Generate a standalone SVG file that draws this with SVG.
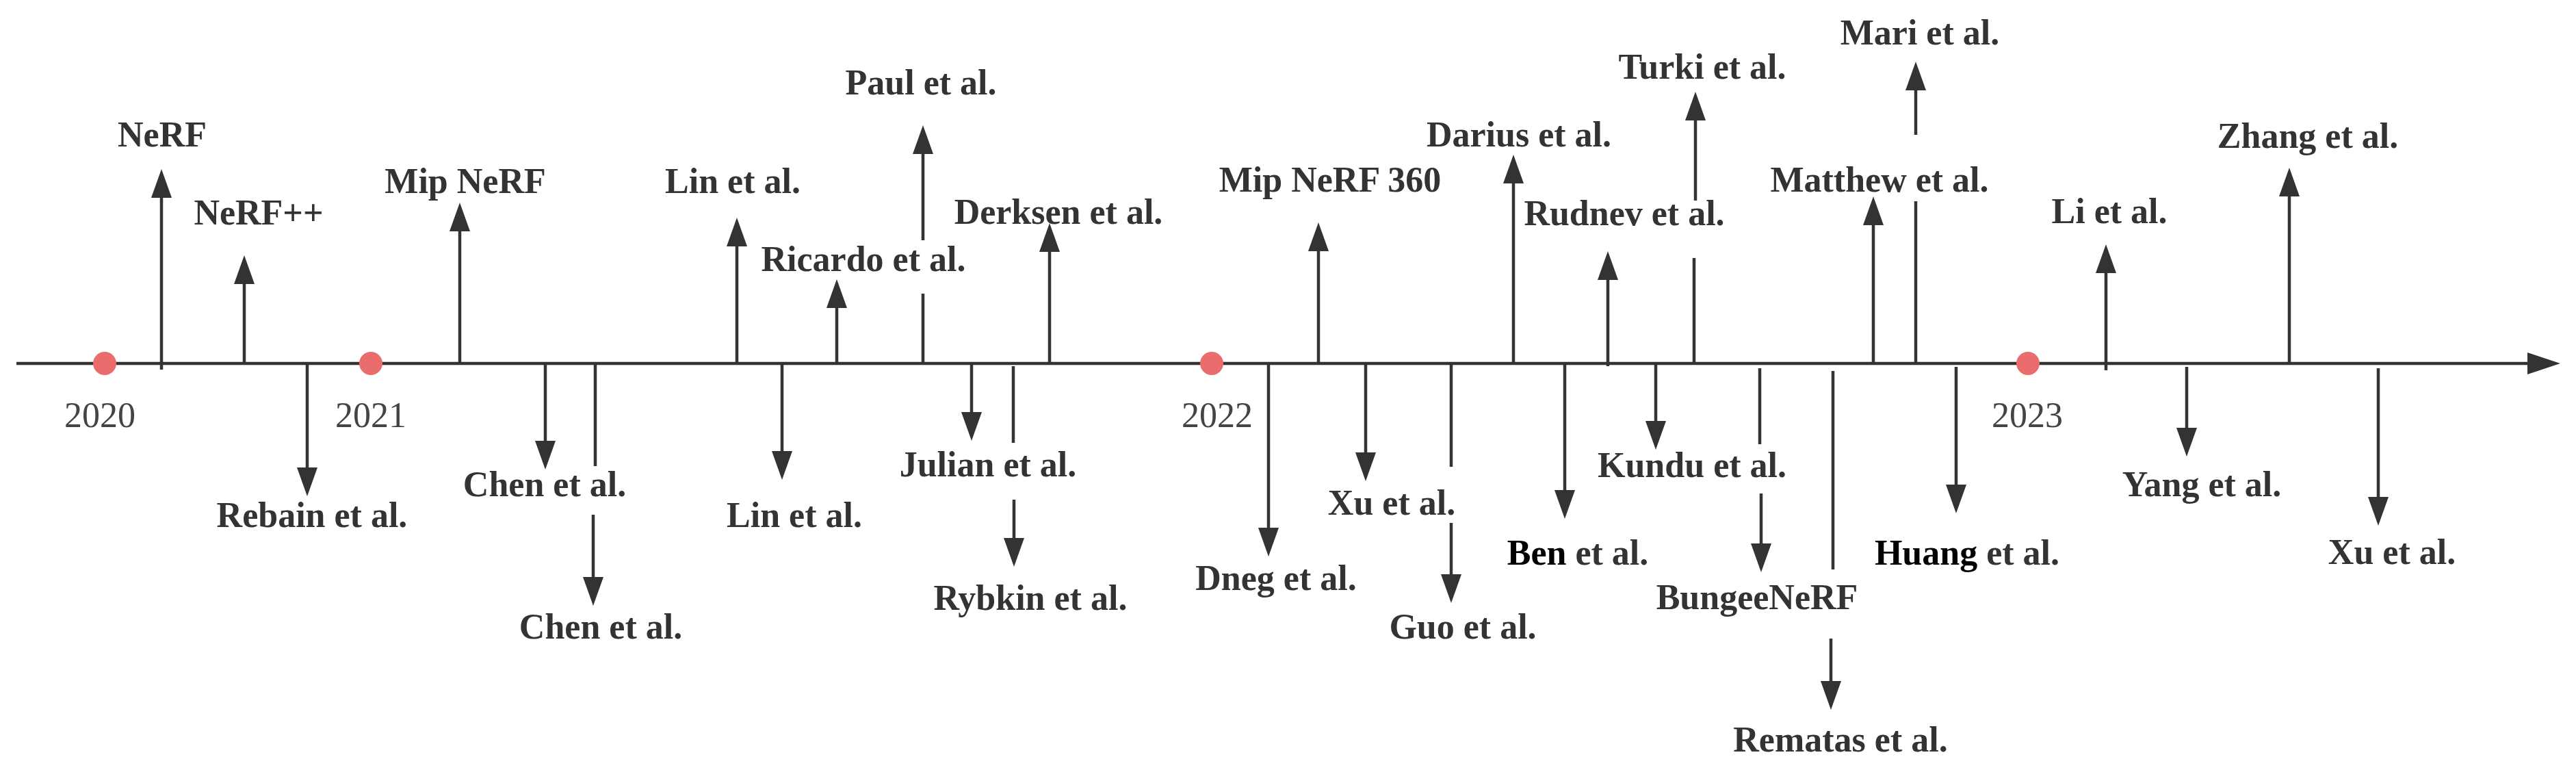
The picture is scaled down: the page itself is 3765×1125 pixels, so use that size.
<svg xmlns="http://www.w3.org/2000/svg" width="3765" height="1125" viewBox="0 0 3765 1125">
<style>
.ln{stroke:#333;stroke-width:4.5;fill:none}
.ar{marker-end:url(#ah)}
.lb{font-family:"Liberation Serif","Times New Roman",serif;font-weight:bold;font-size:52px;fill:#333;text-anchor:middle}
.yr{font-family:"Liberation Serif","Times New Roman",serif;font-size:52px;fill:#444;text-anchor:middle}
.dot{fill:#EA6D6D}
.k{fill:#000}
</style>
<defs>
<marker id="ah" markerUnits="userSpaceOnUse" markerWidth="42" markerHeight="30" refX="20" refY="15" orient="auto" viewBox="0 0 42 30">
<path d="M0,0 L42,15 L0,30 z" fill="#333"/>
</marker>
<marker id="axh" markerUnits="userSpaceOnUse" markerWidth="48" markerHeight="32" refX="22" refY="16" orient="auto" viewBox="0 0 48 32">
<path d="M0,0 L48,16 L0,32 z" fill="#333"/>
</marker>
</defs>
<rect width="3765" height="1125" fill="#fff"/>
<g id="connectors">
<line class="ln" x1="24" y1="531" x2="3716" y2="531" marker-end="url(#axh)"/>
<!-- up -->
<line class="ln ar" x1="236" y1="540" x2="236" y2="269"/>
<line class="ln ar" x1="357" y1="531" x2="357" y2="395"/>
<line class="ln ar" x1="672" y1="533" x2="672" y2="318"/>
<line class="ln ar" x1="1077" y1="531" x2="1077" y2="340"/>
<line class="ln ar" x1="1223" y1="531" x2="1223" y2="430"/>
<line class="ln" x1="1349" y1="531" x2="1349" y2="429"/>
<line class="ln ar" x1="1349" y1="351" x2="1349" y2="205"/>
<line class="ln ar" x1="1534" y1="531" x2="1534" y2="348"/>
<line class="ln ar" x1="1927" y1="531" x2="1927" y2="347"/>
<line class="ln ar" x1="2212" y1="531" x2="2212" y2="248"/>
<line class="ln ar" x1="2350" y1="535" x2="2350" y2="389"/>
<line class="ln" x1="2476" y1="533" x2="2476" y2="377"/>
<line class="ln ar" x1="2478" y1="293" x2="2478" y2="156"/>
<line class="ln ar" x1="2738" y1="531" x2="2738" y2="309"/>
<line class="ln" x1="2800" y1="531" x2="2800" y2="294"/>
<line class="ln ar" x1="2800" y1="197" x2="2800" y2="112"/>
<line class="ln ar" x1="3078" y1="541" x2="3078" y2="379"/>
<line class="ln ar" x1="3346" y1="531" x2="3346" y2="267"/>
<!-- down -->
<line class="ln ar" x1="449" y1="531" x2="449" y2="703"/>
<line class="ln ar" x1="797" y1="531" x2="797" y2="664"/>
<line class="ln" x1="870" y1="531" x2="870" y2="681"/>
<line class="ln ar" x1="867" y1="752" x2="867" y2="863"/>
<line class="ln ar" x1="1143" y1="531" x2="1143" y2="679"/>
<line class="ln ar" x1="1420" y1="531" x2="1420" y2="622"/>
<line class="ln" x1="1481" y1="535" x2="1481" y2="647"/>
<line class="ln ar" x1="1482" y1="730" x2="1482" y2="806"/>
<line class="ln ar" x1="1854" y1="531" x2="1854" y2="791"/>
<line class="ln ar" x1="1996" y1="531" x2="1996" y2="681"/>
<line class="ln" x1="2121" y1="531" x2="2121" y2="682"/>
<line class="ln ar" x1="2121" y1="764" x2="2121" y2="859"/>
<line class="ln ar" x1="2287" y1="531" x2="2287" y2="736"/>
<line class="ln ar" x1="2420" y1="531" x2="2420" y2="635"/>
<line class="ln" x1="2572" y1="538" x2="2572" y2="649"/>
<line class="ln ar" x1="2574" y1="721" x2="2574" y2="814"/>
<line class="ln" x1="2679" y1="542" x2="2679" y2="832"/>
<line class="ln ar" x1="2676" y1="933" x2="2676" y2="1015"/>
<line class="ln ar" x1="2859" y1="536" x2="2859" y2="728"/>
<line class="ln ar" x1="3196" y1="536" x2="3196" y2="645"/>
<line class="ln ar" x1="3476" y1="538" x2="3476" y2="746"/>
</g>
<g id="years">
<g id="y2020"><circle class="dot" cx="153" cy="531" r="17"/><text class="yr" x="146" y="624">2020</text></g>
<g id="y2021"><circle class="dot" cx="542" cy="531" r="17"/><text class="yr" x="542" y="624">2021</text></g>
<g id="y2022"><circle class="dot" cx="1771" cy="531" r="17"/><text class="yr" x="1779" y="624">2022</text></g>
<g id="y2023"><circle class="dot" cx="2964" cy="531" r="17"/><text class="yr" x="2963" y="624">2023</text></g>
</g>
<g id="n-nerf"><text class="lb" x="237" y="214">NeRF</text></g>
<g id="n-nerfpp"><text class="lb" x="378" y="328">NeRF++</text></g>
<g id="n-rebain"><text class="lb" x="456" y="770">Rebain et al.</text></g>
<g id="n-mipnerf"><text class="lb" x="680" y="282">Mip NeRF</text></g>
<g id="n-chen1"><text class="lb" x="796" y="725">Chen et al.</text></g>
<g id="n-chen2"><text class="lb" x="878" y="933">Chen et al.</text></g>
<g id="n-lin1"><text class="lb" x="1071" y="282">Lin et al.</text></g>
<g id="n-lin2"><text class="lb" x="1161" y="770">Lin et al.</text></g>
<g id="n-ricardo"><text class="lb" x="1262" y="396">Ricardo et al.</text></g>
<g id="n-paul"><text class="lb" x="1346" y="138">Paul et al.</text></g>
<g id="n-julian"><text class="lb" x="1444" y="696">Julian et al.</text></g>
<g id="n-rybkin"><text class="lb" x="1506" y="891">Rybkin et al.</text></g>
<g id="n-derksen"><text class="lb" x="1547" y="327">Derksen et al.</text></g>
<g id="n-dneg"><text class="lb" x="1865" y="862">Dneg et al.</text></g>
<g id="n-mip360"><text class="lb" x="1944" y="280">Mip NeRF 360</text></g>
<g id="n-xu1"><text class="lb" x="2034" y="752">Xu et al.</text></g>
<g id="n-guo"><text class="lb" x="2138" y="933">Guo et al.</text></g>
<g id="n-darius"><text class="lb" x="2220" y="214">Darius et al.</text></g>
<g id="n-ben"><text class="lb" x="2306" y="825"><tspan class="k">Ben</tspan> et al.</text></g>
<g id="n-rudnev"><text class="lb" x="2374" y="329">Rudnev et al.</text></g>
<g id="n-kundu"><text class="lb" x="2473" y="697">Kundu et al.</text></g>
<g id="n-turki"><text class="lb" x="2488" y="115">Turki et al.</text></g>
<g id="n-bungee"><text class="lb" x="2568" y="890">BungeeNeRF</text></g>
<g id="n-rematas"><text class="lb" x="2690" y="1098">Rematas et al.</text></g>
<g id="n-matthew"><text class="lb" x="2747" y="280">Matthew et al.</text></g>
<g id="n-mari"><text class="lb" x="2806" y="65">Mari et al.</text></g>
<g id="n-huang"><text class="lb" x="2875" y="825"><tspan class="k">Huang</tspan> et al.</text></g>
<g id="n-li"><text class="lb" x="3083" y="326">Li et al.</text></g>
<g id="n-yang"><text class="lb" x="3218" y="725">Yang et al.</text></g>
<g id="n-zhang"><text class="lb" x="3373" y="216">Zhang et al.</text></g>
<g id="n-xu2"><text class="lb" x="3496" y="824">Xu et al.</text></g>
</svg>
